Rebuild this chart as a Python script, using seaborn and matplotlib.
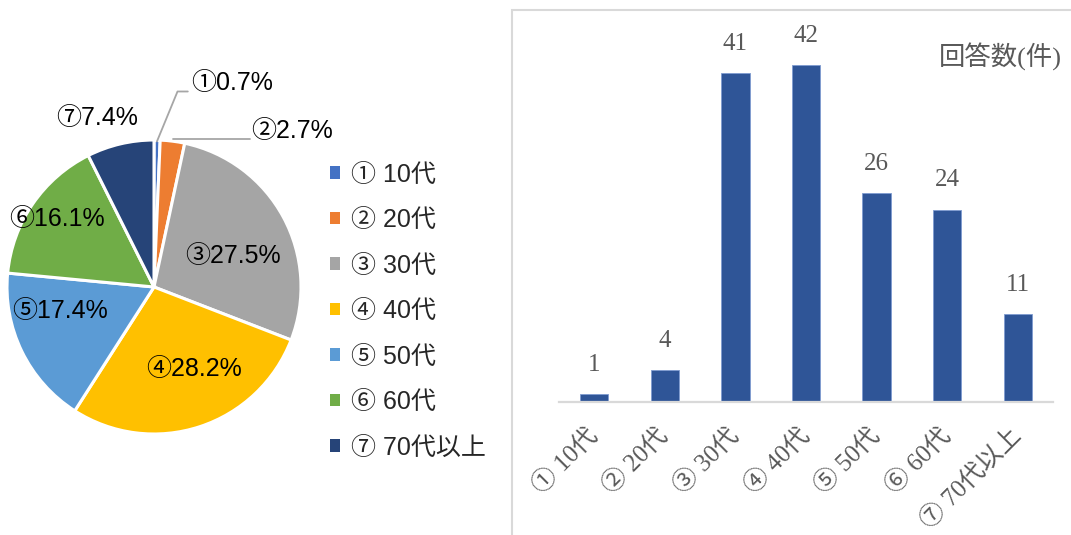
import matplotlib
matplotlib.use("Agg")
import matplotlib.pyplot as plt
import seaborn as sns
from matplotlib.patches import Patch, Rectangle
import pandas as pd

# ---- data ----
categories = ["① 10代", "② 20代", "③ 30代", "④ 40代", "⑤ 50代", "⑥ 60代", "⑦ 70代以上"]
counts = [1, 4, 41, 42, 26, 24, 11]
pie_labels = ["①0.7%", "②2.7%", "③27.5%", "④28.2%", "⑤17.4%", "⑥16.1%", "⑦7.4%"]
pie_colors = ["#4472C4", "#ED7D31", "#A5A5A5", "#FFC000", "#5B9BD5", "#70AD47", "#264478"]
bar_color = "#2F5597"
unit_label = "回答数(件)"

sns.set_theme(style="white")
SANS = ["Liberation Sans", "Noto Sans CJK JP", "DejaVu Sans"]
SERIF = ["Liberation Serif", "Noto Sans CJK JP", "DejaVu Sans"]
plt.rcParams["font.family"] = SANS

W, H = 1071, 535
fig = plt.figure(figsize=(W / 100, H / 100), dpi=100)
fig.patch.set_facecolor("white")

def fx(px):
    return px / W

def fy(py):
    return 1 - py / H

# ---- pie ----
cx, cy, R = 154, 287, 147
axp = fig.add_axes([fx(cx - R), fy(cy + R), 2 * R / W, 2 * R / H])
wedges, _ = axp.pie(counts, colors=pie_colors, startangle=90, counterclock=False,
                    wedgeprops=dict(edgecolor="white", linewidth=2.2))
axp.set_xlim(-1, 1)
axp.set_ylim(-1, 1)
axp.set_aspect("equal")
axp.axis("off")

# label positions (in pie radius units)
label_pos = [(0.53, 1.39), (0.94, 1.06), (0.54, 0.21), (0.27, -0.56),
             (-0.64, -0.16), (-0.66, 0.46), (-0.39, 1.15)]
for (lx, ly), txt in zip(label_pos, pie_labels):
    axp.text(lx, ly, txt, ha="center", va="center", fontsize=18,
             family=SANS, color="black", clip_on=False)
# leader lines
axp.plot([0.02, 0.16, 0.23], [0.99, 1.33, 1.33], color="#A6A6A6", lw=1.3, clip_on=False)
axp.plot([0.13, 0.65], [1.01, 1.01], color="#A6A6A6", lw=1.3, clip_on=False)

handles = [Patch(facecolor=c, edgecolor="none") for c in pie_colors]
fig.legend(handles, categories, loc="center left", bbox_to_anchor=(fx(330), fy(311)),
           frameon=False, prop=dict(family=SANS, size=18), handlelength=0.38,
           handleheight=0.38, handletextpad=0.45, labelspacing=0.86, borderaxespad=0,
           borderpad=0)

# ---- right panel frame ----
fig.patches.append(Rectangle((fx(512), -0.1), 1.0, fy(10) + 0.1, transform=fig.transFigure,
                             facecolor="none", edgecolor="#D9D9D9", lw=1.5, zorder=0))

# ---- bar chart ----
x0, x1, ybase = 559, 1053, 402
ymax = 45
ytop = ybase - 8.02 * ymax
axb = fig.add_axes([fx(x0), fy(ybase), (x1 - x0) / W, (ybase - ytop) / H])
df = pd.DataFrame({"cat": categories, "n": counts})
sns.barplot(data=df, x="cat", y="n", color=bar_color, saturation=1, width=0.4, ax=axb)
axb.set_xlim(-0.5, len(categories) - 0.5)
axb.set_ylim(0, ymax)
axb.patch.set_alpha(0)
for b in axb.patches:
    b.set_edgecolor("#7F9BD0")
    b.set_linewidth(0.6)
axb.bar_label(axb.containers[0], labels=[str(v) for v in counts], padding=13,
              fontsize=18, family=SERIF, color="#595959")
for s in ["top", "right", "left"]:
    axb.spines[s].set_visible(False)
axb.spines["bottom"].set_color("#D9D9D9")
axb.spines["bottom"].set_linewidth(1.6)
axb.set_xlabel("")
axb.set_ylabel("")
axb.set_yticks([])
axb.tick_params(axis="x", length=0, pad=22)
axb.set_xticks(range(len(categories)))
axb.set_xticklabels(categories, rotation=45, ha="right", va="center",
                    rotation_mode="anchor", fontsize=18, family=SERIF, color="#595959")
for t in axb.get_xticklabels():
    t.set_x(t.get_position()[0])

fig.text(fx(1000), fy(57), unit_label, ha="center", va="center", fontsize=19,
         family=SERIF, color="#595959")

fig.savefig("out.png", dpi=100, facecolor="white")
